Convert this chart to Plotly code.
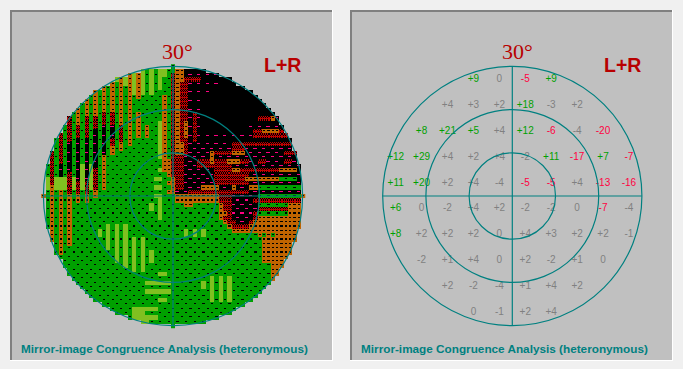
import numpy as np
import plotly.graph_objects as go

W, H = 683, 369

# Left map: 1-degree cells, codes G green, L light green, O orange, R red, K black+magenta, B black
LEFT_COLUMN_RUNS = [
    "0O", "0G 26L 29G", "0R 28O 41G", "0G 26L 29G", "0R 23K 26L 29O 44G", "0G 26L 29G",
    "0R 18K 25R 30O 42G", "0G 26L 29G", "0O 14R 17K 27R 30O 32G", "0G 23L 29G",
    "0O 12R 17K 27R 30O 32G", "0G 23L 29G", "0O 12R 15K 24R 29O 31G", "0G 38L 40G",
    "0O 11R 14K 21O 29G", "0G 37L 43G", "0L 4O 11R 14K 17R 19O 21G", "0L 4G 37L 46G",
    "0O 14R 18O 20G", "0L 5G 37L 47G", "0O 19G", "0L 7G 40L 48G 56L 59G",
    "0O 8G 11O 17G 56L 59G", "0L 7G 40L 48G 56L 60G",
    "0G 14O 17G 50L 51G 52L 53G 56L 57G 58L 60G",
    "0L 7G 32L 34G 43L 46G 50L 51G 52L 53G 56L 57G 58L 59G",
    "0G 26L 27G 28L 29G 30L 31G 50L 51G 52L 53G 56L 57G 58L 59G",
    "0L 6G 13L 22G 24L 25G 26L 27G 28L 29G 30L 36G 48L 49G 50L 51G 52L 53G 54L 55G",
    "0L 3G 7O 25G 48L 49G 50L 51G 52L 53G 54L 55G",
    "0G 22O 26G 27O 28G 29O 30G 50L 51G 52L 53G",
    "0G 2R 26O 30G",
]
RIGHT_ROW_RUNS = [
    "31G", "31O 33K", "31O 33K", "31O 33R 37K 46B", "31O 32R 34K 42B", "31O 32R 34K 42B",
    "31O 32R 34K 39B", "31O 32R 34K 38B", "31O 32R 34K 38B", "31O 32R 34K 38B",
    "31O 32R 34K 38B", "31O 32R 34K 35R 36K 38B 49K",
    "31O 32R 34K 35R 36K 38B 49K 50R 53O 54K", "31O 32R 33O 34K 35R 36K 38B 48K",
    "31O 32R 33O 34K 35R 36K 38B 48K", "31O 32R 33O 34K 35R 36K 38B 47K 49R 51O 55R 57K",
    "31O 32R 33O 34K 35R 36K 45K 49R 57K", "31O 32R 34K 35R 36K", "31O 33R 34K 44R 58K",
    "31O 33R 34K 44R 47K", "31O 33R 34K 39O 40R 44O 47K 56R 59K", "31R 33K 39O 40K",
    "31R 33K 36R 39O 40R 43O 46R 48K 50R 52K 56R 58K", "31R 33K 36R 40R 44K",
    "31R 33K 40R 44O 46R 55O 59K", "31R 33K 40R 48K", "31R 33K 40R 47O 55G 59K",
    "31R 33K 40R 48K", "31R 33K 37O 41K 44O 45K 48O 50G", "31K 34R 48K",
    "31O 41R 44K 50G 60O", "31O 41R 44K 49R 60K", "31G 33O 35G 41O 42R 44K 50G 57O",
    "31G 41O 42R 44K 50R 57O", "31G 41O 43R 44K 49R 50G 57O", "31G 41O 42R 44K 49R 50O",
    "31G 42O 43R 45K 48R 49O", "31G 43O 44R 48O", "31G 33L 34G 35L 36G 37L 38G 44O",
    "31G 33L 34G 35L 36G 37L 38G 50O 51G 52O 53G 54O", "31G 51O", "31G 51O", "31G 51O",
    "31G 51O", "31G 51O", "31G 51O", "31G 53O", "31G 53O", "31G 53O",
    "31G 39L 40G 41L 42G 43L 44G 53O", "31G 37L 38G 39L 40G 41L 42G 43L 44G",
    "31G 37L 38G 39L 40G 41L 42G 43L 44G", "31G 39L 40G 41L 42G 43L 44G",
    "31G 39L 40G 41L 42G 43L 44G", "31G 39L 40G 41L 42G 43L 44G",
    "31G", "31G", "31G", "31G", "31G", "31G",
]

# Right table: percent deviation per test location
LOC_X = [-27, -21, -15, -9, -3, 3, 9, 15, 21, 27]
LOC_Y = [27, 21, 15, 9, 3, -3, -9, -15, -21, -27]
VALUES = [
    [None, None, None, 9, 0, -5, 9, None, None, None],
    [None, None, 4, 3, 2, 18, -3, 2, None, None],
    [None, 8, 21, 5, 4, 12, -6, -4, -20, None],
    [12, 29, 4, 2, 4, -2, 11, -17, 7, -7],
    [11, 20, 2, 4, -4, -5, -5, 4, -13, -16],
    [6, 0, -2, 4, 2, -2, -2, 0, -7, -4],
    [8, 2, 2, 2, 0, 4, 3, 2, 2, -1],
    [None, -2, 1, 4, 0, 2, -2, 1, 0, None],
    [None, None, 2, -2, -4, 1, 4, 2, None, None],
    [None, None, None, 0, -1, 2, 4, None, None, None],
]
RINGS = [10, 20, 30]

GREEN, LIGHT, ORANGE, RED, MAGENTA = "#00A000", "#80C020", "#C06400", "#C00000", "#FF0080"
TEAL = "#008080"
DARKRED = "#B80000"

cells = np.full((61, 61), " ", dtype="<U1")


def expand(runs, n, start=0):
    out = [" "] * n
    parts = runs.split()
    for k, p in enumerate(parts):
        a = int(p[:-1])
        b = int(parts[k + 1][:-1]) if k + 1 < len(parts) else n
        for i in range(a, b):
            out[i] = p[-1]
    return out


for c, runs in enumerate(LEFT_COLUMN_RUNS):
    cells[:, c] = expand(runs, 61)
for r, runs in enumerate(RIGHT_ROW_RUNS):
    row = expand(runs, 61)
    cells[r, 31:] = row[31:]

SUB = 4
z = np.full((61 * SUB, 61 * SUB), np.nan)
for r in range(61):
    half = int(np.sqrt(max(0, 900 - (r - 30) ** 2)))
    for c in range(30 - half, 30 + half + 1):
        code = cells[r, c]
        for sy in range(SUB):
            for sx in range(SUB):
                dash = sy == 1 and sx in (1, 2)
                if code == "G":
                    v = 0 if dash and (c + r) % 2 == 0 else 1
                elif code == "L":
                    v = 2
                elif code == "O":
                    v = 0 if dash else 3
                elif code == "R":
                    v = 0 if (sx + sy) % 2 == 0 and sy != 2 else 4
                elif code == "K":
                    dotted = (c + r) % 2 == 0 and (r >= 18 or r % 2 == 0)
                    v = 5 if sy == 1 and sx in (0, 1, 2) and dotted else 0
                else:
                    v = 0
                z[r * SUB + sy, c * SUB + sx] = v

sub_axis = (np.arange(61 * SUB) + 0.5) / SUB - 30.5
colorscale = []
cols = ["#000000", GREEN, LIGHT, ORANGE, RED, MAGENTA]
for i, col in enumerate(cols):
    colorscale += [[i / 6, col], [(i + 1) / 6, col]]

S = 4.32
CX = [173.0, 512.3]
CY = 196.0
EXT = 31


def px(x):
    return x / W


def py(y):
    return 1 - y / H


fig = go.Figure()
fig.add_trace(go.Heatmap(x=sub_axis, y=sub_axis, z=z, zmin=0, zmax=6, colorscale=colorscale,
                         showscale=False, hoverinfo="skip", xaxis="x", yaxis="y"))

tx, ty, tt, tc = [], [], [], []
for j, yv in enumerate(LOC_Y):
    for i, xv in enumerate(LOC_X):
        v = VALUES[j][i]
        if v is None:
            continue
        tx.append(xv)
        ty.append(yv)
        tt.append(f"{v:+d}" if v != 0 else "0")
        tc.append(GREEN if v >= 5 else ("#FF0040" if v <= -5 else "#808080"))
fig.add_trace(go.Scatter(x=tx, y=ty, text=tt, mode="text", textposition="middle center",
                         textfont=dict(family="Liberation Sans", size=10, color=tc),
                         hoverinfo="skip", xaxis="x2", yaxis="y2", showlegend=False))

shapes = []


def rect(x0, y0, x1, y1, color):
    shapes.append(dict(type="rect", xref="paper", yref="paper", x0=px(x0), x1=px(x1),
                       y0=py(y0), y1=py(y1), fillcolor=color, line_width=0, layer="below"))


for left, right in [(10, 333), (350, 673)]:
    rect(left, 10, right, 361, "#FFFFFF")
    rect(left, 10, right - 1, 360, "#808080")
    rect(left + 2, 12, right - 1, 360, "#C0C0C0")

for xr, yr in [("x", "y"), ("x2", "y2")]:
    for ring in RINGS:
        shapes.append(dict(type="circle", xref=xr, yref=yr, x0=-ring, x1=ring, y0=-ring, y1=ring,
                           line=dict(color=TEAL, width=1.2), layer="above"))
    shapes.append(dict(type="line", xref=xr, yref=yr, x0=-30, x1=30, y0=0, y1=0,
                       line=dict(color=TEAL, width=1.2), layer="above"))
    shapes.append(dict(type="line", xref=xr, yref=yr, x0=0, x1=0, y0=-30, y1=30,
                       line=dict(color=TEAL, width=1.2), layer="above"))

annotations = []


def label(x, y, text, family, size, color, bold=False):
    annotations.append(dict(xref="paper", yref="paper", x=px(x), y=py(y), text=f"<b>{text}</b>" if bold else text,
                            showarrow=False, xanchor="center", yanchor="middle",
                            font=dict(family=family, size=size, color=color)))


for dx in (0, 339.7):
    label(177.3 + dx, 52, "30°", "Liberation Serif", 22, DARKRED)
    label(282.7 + dx, 64.5, "L+R", "Liberation Sans", 19.5, DARKRED, True)
    label(164.8 + dx, 348, "Mirror-image Congruence Analysis (heteronymous)", "Liberation Sans", 11.75, TEAL, True)


def axis(center, anchor):
    return dict(domain=[px(center - EXT * S), px(center + EXT * S)], range=[-EXT, EXT], visible=False,
                fixedrange=True, anchor=anchor)


def yaxis(anchor):
    return dict(domain=[py(CY + EXT * S), py(CY - EXT * S)], range=[-EXT, EXT], visible=False,
                fixedrange=True, anchor=anchor)


y1_cfg = yaxis("x")
y1_cfg["autorange"] = False
y1_cfg["range"] = [EXT, -EXT]  # the map rows run from the top downwards
fig.update_layout(
    width=W, height=H, autosize=False, margin=dict(l=0, r=0, t=0, b=0),
    paper_bgcolor="#F0F0F0", plot_bgcolor="rgba(0,0,0,0)", showlegend=False,
    xaxis=axis(CX[0], "y"), yaxis=y1_cfg, xaxis2=axis(CX[1], "y2"), yaxis2=yaxis("x2"),
    shapes=shapes, annotations=annotations,
)
fig.write_html("out.html", config={"displayModeBar": False},
               post_script="document.body.style.margin='0';document.body.style.overflow='hidden';")
